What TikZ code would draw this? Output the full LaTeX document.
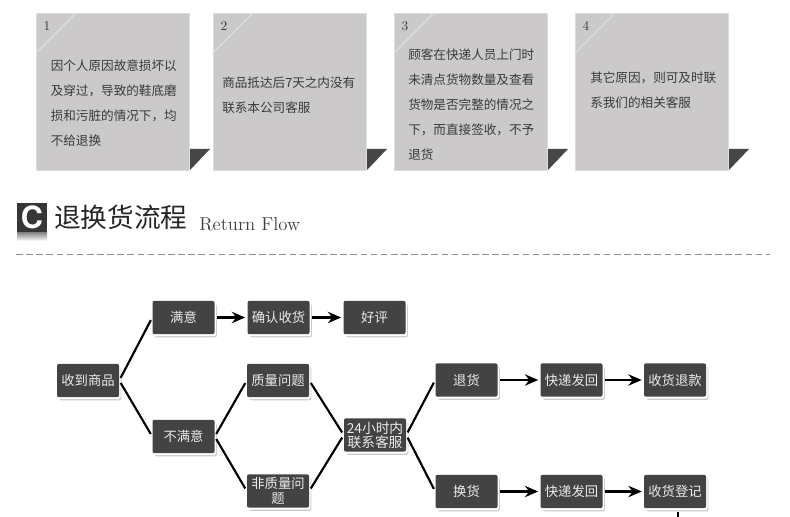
\documentclass[tikz,border=0pt]{standalone}
\usepackage{fontspec}
\setmainfont{Noto Sans CJK SC}
\newfontfamily\latinserif{Latin Modern Roman}
\newfontfamily\iconfont{TeX Gyre Heros}
\usetikzlibrary{shadows,arrows.meta}
\definecolor{cardgray}{HTML}{CBC9CA}
\definecolor{cardedge}{HTML}{DEDDDD}
\definecolor{darkbox}{HTML}{444344}
\definecolor{cardtext}{HTML}{3A3A3A}
\definecolor{foldgray}{HTML}{474546}
\tikzset{
  x=0.75pt,y=-0.75pt,
  card/.style={fill=cardgray,draw=cardedge,line width=0.6pt,minimum width=115pt,minimum height=117.5pt,inner sep=0pt,anchor=north west},
  cardnum/.style={font=\fontsize{10pt}{11pt}\selectfont\latinserif,text=cardtext,inner sep=0pt},
  cardtxt/.style={font=\fontsize{9.45pt}{18.75pt}\selectfont,text=cardtext,align=left,anchor=north west,inner sep=0pt},
  flow/.style={fill=darkbox,text=white!92!black,rounded corners=1.5pt,minimum width=46.5pt,minimum height=25pt,inner sep=0pt,align=center,
    font=\fontsize{10pt}{11.25pt}\selectfont,
    general shadow={fill=black!35,shadow xshift=1.8pt,shadow yshift=-2.4pt,opacity=.6},
    general shadow={fill=white,shadow xshift=1.2pt,shadow yshift=-1.5pt}},
  link/.style={line width=1.6pt,black,shorten <=2.2pt,shorten >=2.2pt},
  arrowlink/.style={line width=1.6pt,black,-{Stealth[length=10pt,width=8.5pt]},shorten <=1.5pt,shorten >=1.5pt},
}
\begin{document}
\begin{tikzpicture}
\useasboundingbox[fill=white] (0,0) rectangle (790,517);
% cards
\foreach \nm/\cx/\num in {c1/36/1,c2/213/2,c3/394/3,c4/575/4}{
  \node[card] (\nm) at (\cx,13) {};
  \fill[foldgray] (\cx+154,149) -- (\cx+174,149) -- (\cx+154,170) -- cycle;
  \draw[cardedge,line width=0.8pt] (\cx,53) -- (\cx+40,13);
  \node[cardnum] (\nm n) at (\cx+11,26) {\num};
}
\node[cardtxt] (t1) at (50.5,60) {因个人原因故意损坏以\\及穿过，导致的鞋底磨\\损和污脏的情况下，均\\不给退换};
\node[cardtxt] (t2) at (222,77) {商品抵达后7天之内没有\\联系本公司客服};
\node[cardtxt] (t3) at (408,48.5) {顾客在快递人员上门时\\未清点货物数量及查看\\货物是否完整的情况之\\下，而直接签收，不予\\退货};
\node[cardtxt] (t4) at (590,72) {其它原因，则可及时联\\系我们的相关客服};
% heading
\shade[top color=black!50,bottom color=white] (17,232) rectangle (47,241);
\node[fill=darkbox!80!black,minimum width=22.5pt,minimum height=21.75pt,inner sep=0pt,text=white,font=\fontsize{23pt}{23pt}\selectfont\iconfont\bfseries] (cicon) at (32,217.5) {C};
\node[anchor=west,inner sep=0pt,text=black!85,font=\fontsize{20pt}{22pt}\selectfont] (title) at (54,217) {退换货流程};
\node[anchor=west,inner sep=0pt,text=black!75,font=\fontsize{14pt}{15pt}\selectfont\latinserif] (sub) at (199,224) {Return Flow};
\coordinate (dl) at (16,254);
\coordinate (dr) at (770,254);
\draw[black!45,line width=0.6pt,dash pattern=on 5pt off 2.6pt] (dl) -- (dr);
% flow
\node[flow] (sm) at (183.5,317.5) {满意};
\node[flow] (qr) at (278.5,317.5) {确认收货};
\node[flow] (hp) at (374.5,317.5) {好评};
\node[flow] (sd) at (88,380.5) {收到商品};
\node[flow] (bm) at (183.5,436.5) {不满意};
\node[flow] (zl) at (278,380.5) {质量问题};
\node[flow] (fz) at (278,491) {非质量问\\题};
\node[flow,font=\fontsize{10.3pt}{9pt}\selectfont] (kf) at (375,435) {24小时内\\联系客服};
\node[flow] (th) at (466.5,380) {退货};
\node[flow] (kd1) at (571.5,380) {快递发回};
\node[flow] (tk) at (675,380) {收货退款};
\node[flow] (hh) at (466.5,491.5) {换货};
\node[flow] (kd2) at (571.5,491.5) {快递发回};
\node[flow] (dj) at (675,491.5) {收货登记};
\draw[link] (sd.east) -- (sm.west);
\draw[link] (sd.east) -- (bm.west);
\draw[link] (bm.east) -- (zl.west);
\draw[link] (bm.east) -- (fz.west);
\draw[link] (zl.east) -- (kf.west);
\draw[link] (fz.east) -- (kf.west);
\draw[link] (kf.east) -- (th.west);
\draw[link] (kf.east) -- (hh.west);
\draw[arrowlink] (sm) -- (qr);
\draw[arrowlink] (qr) -- (hp);
\draw[arrowlink] (th) -- (kd1);
\draw[arrowlink] (kd1) -- (tk);
\draw[arrowlink] (hh) -- (kd2);
\draw[arrowlink] (kd2) -- (dj);
\coordinate (tail) at (678,517);
\draw[line width=1.1pt,black] (678,512) -- (tail);
\end{tikzpicture}
\end{document}
